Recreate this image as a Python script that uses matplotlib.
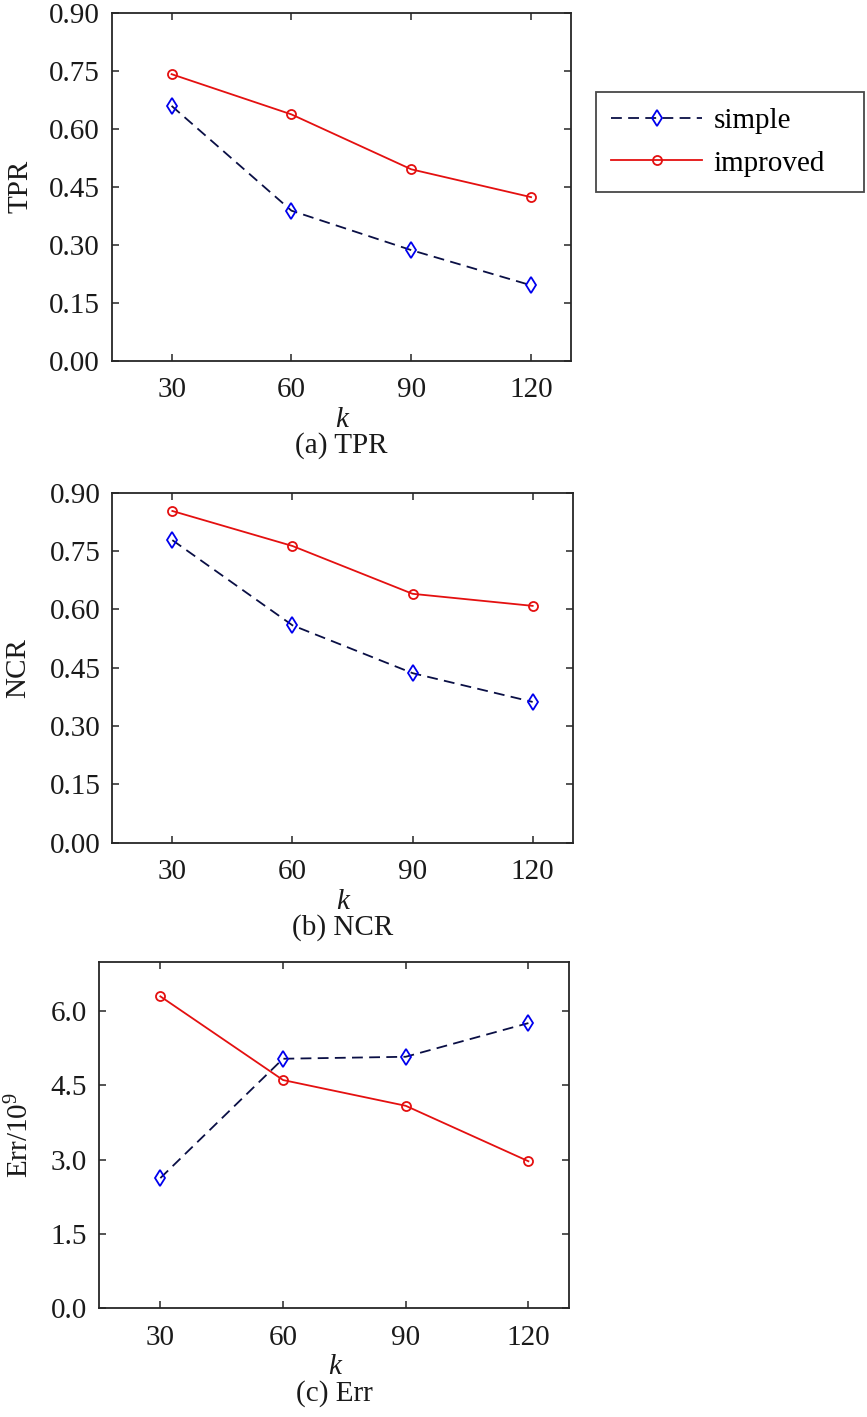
import numpy as np
import matplotlib
matplotlib.use('Agg')
import matplotlib.pyplot as plt

plt.rcParams['font.family'] = ['Liberation Serif', 'DejaVu Serif']
plt.rcParams['mathtext.fontset'] = 'custom'
plt.rcParams['mathtext.rm'] = 'Liberation Serif'
plt.rcParams['mathtext.it'] = 'Liberation Serif:italic'

# data
k = [30, 60, 90, 120]

tpr_simple = [0.659, 0.388, 0.286, 0.195]
tpr_improved = [0.741, 0.637, 0.495, 0.423]

ncr_simple = [0.778, 0.559, 0.436, 0.362]
ncr_improved = [0.853, 0.763, 0.640, 0.609]

err_simple = [2.63, 5.04, 5.08, 5.76]
err_improved = [6.30, 4.61, 4.09, 2.97]

ylabels = ['TPR', 'NCR', 'Err/10$^9$']
captions = ['(a) TPR', '(b) NCR', '(c) Err']
yticks_list = [np.arange(0, 0.91, 0.15), np.arange(0, 0.91, 0.15), np.arange(0, 6.1, 1.5)]
yfmt = ['%.2f', '%.2f', '%.1f']
ylims = [(0, 0.9), (0, 0.9), (0, 7)]

W, H = 867, 1417
fig = plt.figure(figsize=(W / 100, H / 100), dpi=100)

# axes boxes in pixels: left, right, top, bottom
boxes = [(111.7, 571, 12.7, 360.7),
         (112.3, 572.7, 492.7, 842.7),
         (99, 569.3, 961.7, 1308.3)]
ylab_x = [33, 31, 34]   # right edge of the y label

FS = 21
series = [(tpr_simple, tpr_improved), (ncr_simple, ncr_improved), (err_simple, err_improved)]

for i, (l, r, t, b) in enumerate(boxes):
    ax = fig.add_axes([l / W, 1 - b / H, (r - l) / W, (b - t) / H])
    s, im = series[i]
    ax.plot(k, s, color='#0a0f45', lw=1.3, dashes=(6, 3.5),
            marker='d', ms=8.5, mfc='none', mec='#0000ee', mew=1.3, label='simple')
    ax.plot(k, im, color='#e41010', lw=1.3,
            marker='o', ms=6.5, mfc='none', mec='#e41010', mew=1.3, label='improved')
    ax.set_xlim(15, 130)
    ax.set_ylim(*ylims[i])
    ax.set_xticks(k)
    ax.set_yticks(yticks_list[i])
    ax.set_yticklabels([yfmt[i] % v for v in yticks_list[i]])
    ax.tick_params(direction='in', top=True, right=True, length=5, width=1.1,
                   labelsize=FS, color='#262626', labelcolor='#1a1a1a')
    ax.tick_params(axis='y', pad=8.5)
    ax.tick_params(axis='x', pad=12)
    for sp in ax.spines.values():
        sp.set_linewidth(1.3)
        sp.set_color('#262626')
    ax.set_ylabel(ylabels[i], fontsize=FS, color='#1a1a1a')
    ax.yaxis.set_label_coords((ylab_x[i] - l) / (r - l), 0.5)
    cx = (l + r) / 2
    fig.text(cx / W, 1 - (b + 59) / H, 'k', fontsize=FS, style='italic',
             ha='center', va='center', color='#1a1a1a')
    fig.text(cx / W, 1 - (b + 85) / H, captions[i], fontsize=FS,
             ha='center', va='center', color='#1a1a1a')
    if i == 0:
        leg = fig.legend(loc='upper left',
                         bbox_to_anchor=(596 / W, 1 - 192.7 / H, 268 / W, 100.4 / H),
                         mode='expand', fontsize=FS, frameon=True, fancybox=False,
                         handlelength=3.1, handletextpad=0.4, labelspacing=0.55,
                         borderpad=0.53, borderaxespad=0)
        leg.get_frame().set_edgecolor('#1a1a1a')
        leg.get_frame().set_linewidth(1.3)

plt.savefig('out.png', dpi=100)
